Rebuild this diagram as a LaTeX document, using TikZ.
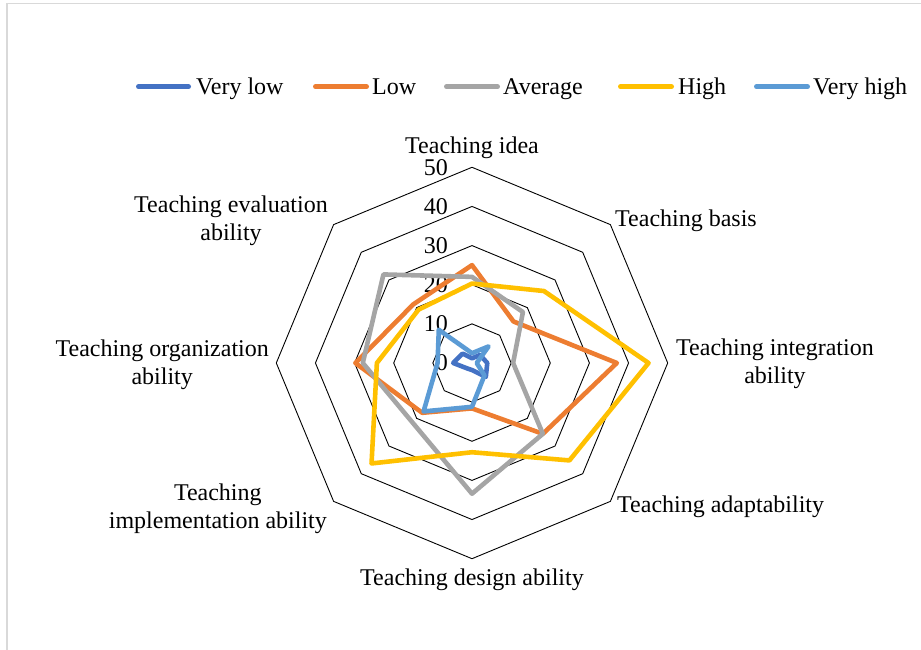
\documentclass[tikz,border=0pt]{standalone}
\usepackage{fontspec}
\setmainfont{Liberation Serif}
\definecolor{cVlow}{HTML}{4472C4}
\definecolor{cLow}{HTML}{ED7D31}
\definecolor{cAvg}{HTML}{A5A5A5}
\definecolor{cHigh}{HTML}{FFC000}
\definecolor{cVhigh}{HTML}{5B9BD5}
\definecolor{cFrame}{HTML}{D9D9D9}
\begin{document}
\begin{tikzpicture}[x=1pt,y=1pt,
  lbl/.style={font=\fontsize{24}{28}\selectfont, inner sep=0pt, align=center},
  ring/.style={draw=black, line width=0.9pt},
  ser/.style={line width=4.6pt, line join=round, line cap=round},
  legline/.style={line width=5pt, line cap=round},
]
\useasboundingbox (0,0) rectangle (921,650);
\draw[cFrame, line width=1.5pt] (7,0) -- (7,646.5) -- (921,646.5);

% legend
\coordinate (l1a) at (138.5,563.3); \coordinate (l1b) at (188.5,563.3);
\coordinate (l2a) at (315.5,563.3); \coordinate (l2b) at (366.5,563.3);
\coordinate (l3a) at (446.5,563.3); \coordinate (l3b) at (497.5,563.3);
\coordinate (l4a) at (620.5,563.3); \coordinate (l4b) at (671.5,563.3);
\coordinate (l5a) at (756.5,563.3); \coordinate (l5b) at (807.5,563.3);
\draw[legline, cVlow] (l1a) -- (l1b);
\draw[legline, cLow] (l2a) -- (l2b);
\draw[legline, cAvg] (l3a) -- (l3b);
\draw[legline, cHigh] (l4a) -- (l4b);
\draw[legline, cVhigh] (l5a) -- (l5b);
\node[lbl, anchor=base west] (g1) at (196,555.7) {Very low};
\node[lbl, anchor=base west] (g2) at (372,555.7) {Low};
\node[lbl, anchor=base west] (g3) at (503,555.7) {Average};
\node[lbl, anchor=base west] (g4) at (678,555.7) {High};
\node[lbl, anchor=base west] (g5) at (813,555.7) {Very high};

% axis labels
\node[lbl, anchor=base] (a0) at (472,496.7) {Teaching idea};
\node[lbl, anchor=base west] (a1) at (615,423) {Teaching basis};
\node[lbl, anchor=west] (a2) at (676,286) {Teaching integration\\ability};
\node[lbl, anchor=base west] (a3) at (617,137) {Teaching adaptability};
\node[lbl, anchor=base] (a4) at (472,64) {Teaching design ability};
\node[lbl, anchor=east] (a5) at (327,141.5) {Teaching\\implementation ability};
\node[lbl, anchor=east] (a6) at (269,285.5) {Teaching organization\\ability};
\node[lbl, anchor=east] (a7) at (328,429.7) {Teaching evaluation\\ability};

\begin{scope}[shift={(472pt,287pt)}, x=3.914pt, y=3.914pt]
  \foreach \k in {10,20,30,40,50}
    \draw[ring] (90:\k) -- (45:\k) -- (0:\k) -- (-45:\k) -- (-90:\k) -- (-135:\k) -- (180:\k) -- (135:\k) -- cycle;
  \foreach \k in {0,10,20,30,40,50}
    \node[lbl, anchor=east] (t\k) at (-6.13,\k) {\k};
  % Very low
  \draw[ser, cVlow] (90:1.2) -- (45:2.9) -- (0:3.9) -- (-45:5) -- (-90:1.8) -- (-135:1.9) -- (180:4.8) -- (135:3.4) -- cycle;
  % Low
  \draw[ser, cLow] (90:25) -- (45:15) -- (0:37) -- (-45:25.6) -- (-90:11.6) -- (-135:18) -- (180:29.8) -- (135:21.2) -- cycle;
  % Average
  \draw[ser, cAvg] (90:22) -- (45:18.4) -- (0:10.5) -- (-45:25.6) -- (-90:33.4) -- (-135:21.5) -- (180:27.9) -- (135:32) -- cycle;
  % High
  \draw[ser, cHigh] (90:20.3) -- (45:26) -- (0:45.1) -- (-45:35.2) -- (-90:22.8) -- (-135:36.3) -- (180:24.3) -- (135:19.3) -- cycle;
  % Very high
  \draw[ser, cVhigh] (90:2.5) -- (45:6) -- (0:1.2) -- (-45:4.5) -- (-90:11.2) -- (-135:17.5) -- (180:8.8) -- (135:12) -- cycle;
\end{scope}
\end{tikzpicture}
\end{document}
